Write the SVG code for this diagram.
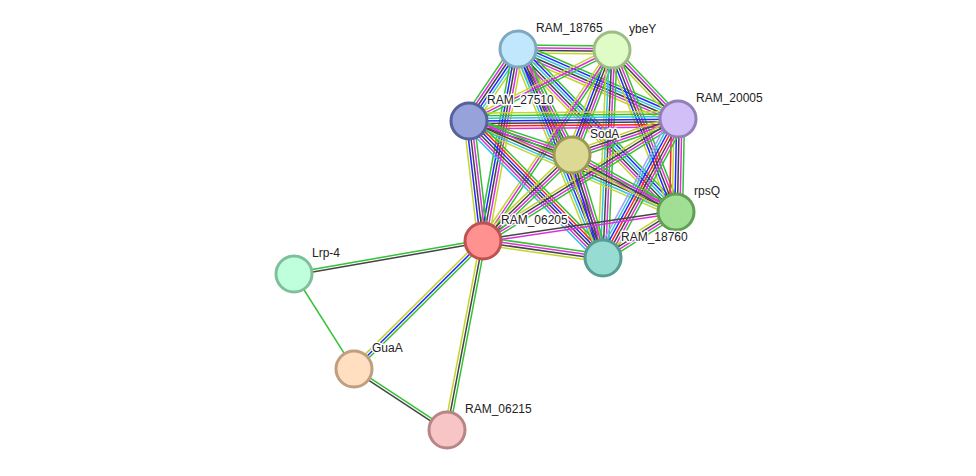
<svg xmlns="http://www.w3.org/2000/svg" width="976" height="476" viewBox="0 0 976 476">
<style>
line{stroke-width:1.5;fill:none}
.g{stroke:#33c233}.r{stroke:#ff2020}.b{stroke:#2424ff}.k{stroke:#444}.m{stroke:#dd30dd}.c{stroke:#30c4e0}.y{stroke:#c2d62a}.h{stroke:#a0a0ff}
circle{stroke-width:3}
text{font-family:"Liberation Sans",Arial,sans-serif;font-size:12px;fill:#222;stroke:#fff;stroke-width:3;paint-order:stroke;stroke-linejoin:round}
</style>
<rect width="976" height="476" fill="#fff"/>
<g id="edges">
<!-- A-B -->
<g transform="translate(518 49) rotate(0.6)"><line x2="94" y1="-3.9" y2="-3.9" class="g"/><line x2="94" y1="-1.3" y2="-1.3" class="m"/><line x2="94" y1="1.3" y2="1.3" class="k"/><line x2="94" y1="3.9" y2="3.9" class="y"/></g>
<!-- A-C -->
<g transform="translate(518 49) rotate(124.2)"><line x2="87" y1="-6.5" y2="-6.5" class="y"/><line x2="87" y1="-3.9" y2="-3.9" class="c"/><line x2="87" y1="-1.3" y2="-1.3" class="b"/><line x2="87" y1="1.3" y2="1.3" class="k"/><line x2="87" y1="3.9" y2="3.9" class="m"/><line x2="87" y1="6.5" y2="6.5" class="g"/></g>
<!-- A-D -->
<g transform="translate(518 49) rotate(23.6)"><line x2="175" y1="-6.5" y2="-6.5" class="g"/><line x2="175" y1="-3.9" y2="-3.9" class="b"/><line x2="175" y1="-1.3" y2="-1.3" class="c"/><line x2="175" y1="1.3" y2="1.3" class="k"/><line x2="175" y1="3.9" y2="3.9" class="m"/><line x2="175" y1="6.5" y2="6.5" class="y"/></g>
<!-- A-E -->
<g transform="translate(518 49) rotate(63)"><line x2="119" y1="-5.2" y2="-5.2" class="g"/><line x2="119" y1="-2.6" y2="-2.6" class="m"/><line x2="119" class="k"/><line x2="119" y1="2.6" y2="2.6" class="b"/><line x2="119" y1="5.2" y2="5.2" class="y"/></g>
<!-- A-F -->
<g transform="translate(518 49) rotate(45.9)"><line x2="227" y1="-6.5" y2="-6.5" class="g"/><line x2="227" y1="-3.9" y2="-3.9" class="b"/><line x2="227" y1="-1.3" y2="-1.3" class="c"/><line x2="227" y1="1.3" y2="1.3" class="k"/><line x2="227" y1="3.9" y2="3.9" class="m"/><line x2="227" y1="6.5" y2="6.5" class="y"/></g>
<!-- A-G -->
<g transform="translate(518 49) rotate(100.3)"><line x2="195" y1="-5.2" y2="-5.2" class="y"/><line x2="195" y1="-2.6" y2="-2.6" class="m"/><line x2="195" class="k"/><line x2="195" y1="2.6" y2="2.6" class="b"/><line x2="195" y1="5.2" y2="5.2" class="g"/></g>
<!-- A-H -->
<g transform="translate(518 49) rotate(67.9)"><line x2="226" y1="-6.5" y2="-6.5" class="g"/><line x2="226" y1="-3.9" y2="-3.9" class="m"/><line x2="226" y1="-1.3" y2="-1.3" class="k"/><line x2="226" y1="1.3" y2="1.3" class="b"/><line x2="226" y1="3.9" y2="3.9" class="c"/><line x2="226" y1="6.5" y2="6.5" class="y"/></g>
<!-- B-C -->
<g transform="translate(612 50) rotate(153.6)"><line x2="160" y1="-2.6" y2="-2.6" class="g"/><line x2="160" class="m"/><line x2="160" y1="2.6" y2="2.6" class="y"/></g>
<!-- B-D -->
<g transform="translate(612 50) rotate(46.3)"><line x2="96" y1="-3.9" y2="-3.9" class="g"/><line x2="96" y1="-1.3" y2="-1.3" class="m"/><line x2="96" y1="1.3" y2="1.3" class="k"/><line x2="96" y1="3.9" y2="3.9" class="y"/></g>
<!-- B-E -->
<g transform="translate(612 50) rotate(110.9)"><line x2="112" y1="-5.2" y2="-5.2" class="g"/><line x2="112" y1="-2.6" y2="-2.6" class="m"/><line x2="112" class="k"/><line x2="112" y1="2.6" y2="2.6" class="b"/><line x2="112" y1="5.2" y2="5.2" class="y"/></g>
<!-- B-F -->
<g transform="translate(612 50) rotate(68.4)"><line x2="174" y1="-5.2" y2="-5.2" class="g"/><line x2="174" y1="-2.6" y2="-2.6" class="m"/><line x2="174" class="k"/><line x2="174" y1="2.6" y2="2.6" class="b"/><line x2="174" y1="5.2" y2="5.2" class="y"/></g>
<!-- B-G -->
<g transform="translate(612 50) rotate(124)"><line x2="230" y1="-2.6" y2="-2.6" class="g"/><line x2="230" class="m"/><line x2="230" y1="2.6" y2="2.6" class="y"/></g>
<!-- B-H -->
<g transform="translate(612 50) rotate(92.5)"><line x2="208" y1="-5.2" y2="-5.2" class="g"/><line x2="208" y1="-2.6" y2="-2.6" class="m"/><line x2="208" class="k"/><line x2="208" y1="2.6" y2="2.6" class="c"/><line x2="208" y1="5.2" y2="5.2" class="y"/></g>
<!-- C-D -->
<g transform="translate(469 121) rotate(-0.5)"><line x2="209" y1="-7.8" y2="-7.8" class="y"/><line x2="209" y1="-5.2" y2="-5.2" class="g"/><line x2="209" y1="-2.6" y2="-2.6" class="c"/><line x2="209" class="b"/><line x2="209" y1="2.6" y2="2.6" class="k"/><line x2="209" y1="5.2" y2="5.2" class="r"/><line x2="209" y1="7.8" y2="7.8" class="m"/></g>
<!-- C-E -->
<g transform="translate(469 121) rotate(18.3)"><line x2="108" y1="-3.9" y2="-3.9" class="g"/><line x2="108" y1="-1.3" y2="-1.3" class="m"/><line x2="108" y1="1.3" y2="1.3" class="k"/><line x2="108" y1="3.9" y2="3.9" class="y"/></g>
<!-- C-F -->
<g transform="translate(469 121) rotate(23.7)"><line x2="226" y1="-5.2" y2="-5.2" class="g"/><line x2="226" y1="-2.6" y2="-2.6" class="m"/><line x2="226" class="k"/><line x2="226" y1="2.6" y2="2.6" class="c"/><line x2="226" y1="5.2" y2="5.2" class="y"/></g>
<!-- C-G -->
<g transform="translate(469 121) rotate(83.3)"><line x2="121" y1="-5.2" y2="-5.2" class="g"/><line x2="121" y1="-2.6" y2="-2.6" class="m"/><line x2="121" class="k"/><line x2="121" y1="2.6" y2="2.6" class="b"/><line x2="121" y1="5.2" y2="5.2" class="y"/></g>
<!-- C-H -->
<g transform="translate(469 121) rotate(45.6)"><line x2="192" y1="-6.5" y2="-6.5" class="g"/><line x2="192" y1="-3.9" y2="-3.9" class="r"/><line x2="192" y1="-1.3" y2="-1.3" class="b"/><line x2="192" y1="1.3" y2="1.3" class="k"/><line x2="192" y1="3.9" y2="3.9" class="m"/><line x2="192" y1="6.5" y2="6.5" class="c"/></g>
<!-- D-E -->
<g transform="translate(678 119) rotate(161.2)"><line x2="112" y1="-3.9" y2="-3.9" class="g"/><line x2="112" y1="-1.3" y2="-1.3" class="m"/><line x2="112" y1="1.3" y2="1.3" class="k"/><line x2="112" y1="3.9" y2="3.9" class="y"/></g>
<!-- D-F -->
<g transform="translate(678 119) rotate(91.2)"><line x2="93" y1="-6.5" y2="-6.5" class="g"/><line x2="93" y1="-3.9" y2="-3.9" class="m"/><line x2="93" y1="-1.3" y2="-1.3" class="k"/><line x2="93" y1="1.3" y2="1.3" class="b"/><line x2="93" y1="3.9" y2="3.9" class="y"/><line x2="93" y1="6.5" y2="6.5" class="r"/></g>
<!-- D-G -->
<g transform="translate(678 119) rotate(148)"><line x2="230" y1="-3.9" y2="-3.9" class="g"/><line x2="230" y1="-1.3" y2="-1.3" class="m"/><line x2="230" y1="1.3" y2="1.3" class="k"/><line x2="230" y1="3.9" y2="3.9" class="y"/></g>
<!-- D-H -->
<g transform="translate(678 119) rotate(118.4)"><line x2="158" y1="-7.8" y2="-7.8" class="g"/><line x2="158" y1="-5.2" y2="-5.2" class="m"/><line x2="158" y1="-2.6" y2="-2.6" class="k"/><line x2="158" class="r"/><line x2="158" y1="2.6" y2="2.6" class="b"/><line x2="158" y1="5.2" y2="5.2" class="c"/><line x2="158" y1="7.8" y2="7.8" class="h"/></g>
<!-- E-F -->
<g transform="translate(572 155) rotate(28.7)"><line x2="119" y1="-3.9" y2="-3.9" class="g"/><line x2="119" y1="-1.3" y2="-1.3" class="m"/><line x2="119" y1="1.3" y2="1.3" class="k"/><line x2="119" y1="3.9" y2="3.9" class="y"/></g>
<!-- E-G -->
<g transform="translate(572 155) rotate(136)"><line x2="124" y1="-3.9" y2="-3.9" class="g"/><line x2="124" y1="-1.3" y2="-1.3" class="m"/><line x2="124" y1="1.3" y2="1.3" class="k"/><line x2="124" y1="3.9" y2="3.9" class="y"/></g>
<!-- E-H -->
<g transform="translate(572 155) rotate(73.2)"><line x2="108" y1="-5.2" y2="-5.2" class="g"/><line x2="108" y1="-2.6" y2="-2.6" class="m"/><line x2="108" class="k"/><line x2="108" y1="2.6" y2="2.6" class="b"/><line x2="108" y1="5.2" y2="5.2" class="y"/></g>
<!-- F-G -->
<g transform="translate(676 212) rotate(171.5)"><line x2="195" y1="-1.3" y2="-1.3" class="m"/><line x2="195" y1="1.3" y2="1.3" class="k"/></g>
<!-- F-H -->
<g transform="translate(676 212) rotate(147.8)"><line x2="86" y1="-3.9" y2="-3.9" class="g"/><line x2="86" y1="-1.3" y2="-1.3" class="m"/><line x2="86" y1="1.3" y2="1.3" class="k"/><line x2="86" y1="3.9" y2="3.9" class="y"/></g>
<!-- G-H -->
<g transform="translate(483 241) rotate(8.1)"><line x2="121" y1="-3.9" y2="-3.9" class="g"/><line x2="121" y1="-1.3" y2="-1.3" class="m"/><line x2="121" y1="1.3" y2="1.3" class="k"/><line x2="121" y1="3.9" y2="3.9" class="y"/></g>
<!-- G-I -->
<g transform="translate(483 241) rotate(170.1)"><line x2="192" y1="-1.3" y2="-1.3" class="k"/><line x2="192" y1="1.3" y2="1.3" class="g"/></g>
<!-- G-J -->
<g transform="translate(483 241) rotate(135.2)"><line x2="182" y1="-2.6" y2="-2.6" class="g"/><line x2="182" class="b"/><line x2="182" y1="2.6" y2="2.6" class="y"/></g>
<!-- G-K -->
<g transform="translate(483 241) rotate(100.8)"><line x2="192" y1="-2.6" y2="-2.6" class="g"/><line x2="192" class="k"/><line x2="192" y1="2.6" y2="2.6" class="y"/></g>
<!-- I-J -->
<g transform="translate(294 274) rotate(57.7)"><line x2="112" class="g"/></g>
<!-- J-K -->
<g transform="translate(354 369) rotate(33.3)"><line x2="111" y1="-1.3" y2="-1.3" class="g"/><line x2="111" y1="1.3" y2="1.3" class="k"/></g>
</g>
<g id="RAM_18765"><circle cx="518" cy="49" r="18" fill="#c0e7fc" stroke="#80a7c0"/><text x="536" y="32">RAM_18765</text></g>
<g id="ybeY"><circle cx="612" cy="50" r="18" fill="#e0fcc6" stroke="#a0bc86"/><text x="629" y="33">ybeY</text></g>
<g id="RAM_27510"><circle cx="469" cy="121" r="18" fill="#98a2da" stroke="#58629a"/><text x="487" y="104">RAM_27510</text></g>
<g id="RAM_20005"><circle cx="678" cy="119" r="18" fill="#d2bff8" stroke="#927fb8"/><text x="696" y="102">RAM_20005</text></g>
<g id="SodA"><circle cx="572" cy="155" r="18" fill="#dcd994" stroke="#9c9954"/><text x="590" y="138">SodA</text></g>
<g id="rpsQ"><circle cx="676" cy="212" r="18" fill="#a0df94" stroke="#609f54"/><text x="694" y="195">rpsQ</text></g>
<g id="RAM_06205"><circle cx="483" cy="241" r="18" fill="#ff9191" stroke="#bf5151"/><text x="501" y="224">RAM_06205</text></g>
<g id="RAM_18760"><circle cx="603" cy="258" r="18" fill="#96dcd3" stroke="#569c93"/><text x="621" y="241">RAM_18760</text></g>
<g id="Lrp-4"><circle cx="294" cy="274" r="18" fill="#c0ffdb" stroke="#80bf9b"/><text x="312" y="257">Lrp-4</text></g>
<g id="GuaA"><circle cx="354" cy="369" r="18" fill="#ffdfc0" stroke="#bf9f80"/><text x="372" y="352">GuaA</text></g>
<g id="RAM_06215"><circle cx="447" cy="430" r="18" fill="#f7c5c5" stroke="#b78585"/><text x="465" y="413">RAM_06215</text></g>
</svg>
